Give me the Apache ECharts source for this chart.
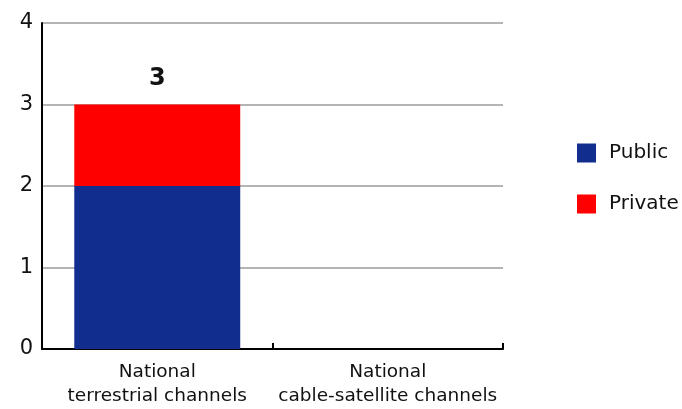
<!DOCTYPE html>
<html><head><meta charset="utf-8">
<script src="https://cdn.jsdelivr.net/npm/echarts@6/dist/echarts.min.js"></script>
<style>html,body{margin:0;padding:0;background:#fff}#c{width:682px;height:409px}</style>
</head><body><div id="c"></div>
<script>
const categories = ['National\nterrestrial channels', 'National\ncable-satellite channels'];
const publicValues = [2, 0];
const privateValues = [1, 0];
const totals = [3, null];
const yTicks = [0, 1, 2, 3, 4];

const chart = echarts.init(document.getElementById('c'));
const font = 'DejaVu Sans';
chart.setOption({
  animation: false,
  textStyle: { fontFamily: font },
  grid: { left: 42, right: 179, top: 23, bottom: 60 },
  legend: {
    orient: 'vertical', left: 572, top: 138,
    itemWidth: 19, itemHeight: 19, itemGap: 31,
    icon: 'rect',
    textStyle: { fontFamily: font, fontSize: 20, color: '#111', padding: [0, 0, 0, 8] },
    data: ['Public', 'Private']
  },
  xAxis: {
    type: 'category', data: categories,
    axisLine: { lineStyle: { color: '#000', width: 2 } },
    axisTick: { show: true, inside: true, length: 6, lineStyle: { color: '#000', width: 2 } },
    axisLabel: { interval: 0, fontFamily: font, fontSize: 18.5, color: '#111', lineHeight: 24, margin: 11 }
  },
  yAxis: {
    type: 'value', min: 0, max: 4, interval: 1,
    axisLine: { show: true, lineStyle: { color: '#000', width: 2 } },
    axisTick: { show: false },
    splitLine: { lineStyle: { color: '#b4b4b4', width: 2 } },
    axisLabel: { fontFamily: font, fontSize: 21, color: '#111', margin: 9,
      formatter: v => yTicks.includes(v) ? String(v) : '' }
  },
  series: [
    { name: 'Public', type: 'bar', stack: 's', data: publicValues, barWidth: '72%',
      itemStyle: { color: '#112e8e' } },
    { name: 'Private', type: 'bar', stack: 's', data: privateValues, barWidth: '72%',
      itemStyle: { color: '#ff0000' },
      label: { show: true, position: 'top', distance: 14,
        fontFamily: font, fontSize: 24, fontWeight: 'bold', color: '#111',
        formatter: p => totals[p.dataIndex] == null ? '' : String(totals[p.dataIndex]) } }
  ]
});
</script></body></html>
